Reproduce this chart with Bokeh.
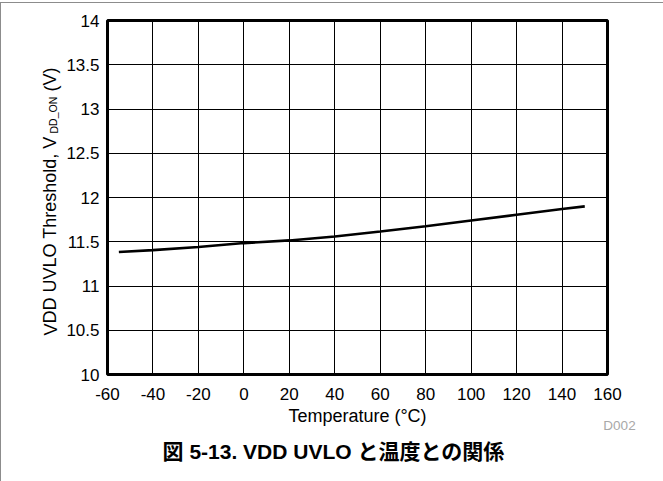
from bokeh.plotting import figure
from bokeh.models import Range1d, FixedTicker, Label
from bokeh.embed import file_html
from bokeh.resources import INLINE

# ---- data ----
temp_c = [-55, -40, -20, 0, 20, 40, 60, 80, 100, 120, 140, 150]
vdd_on = [11.385, 11.405, 11.44, 11.485, 11.515, 11.56, 11.615, 11.675, 11.74, 11.805, 11.87, 11.90]

x_ticks = [-60, -40, -20, 0, 20, 40, 60, 80, 100, 120, 140, 160]
x_tick_labels = ["-60", "-40", "-20", "0", "20", "40", "60", "80", "100", "120", "140", "160"]
y_ticks = [10, 10.5, 11, 11.5, 12, 12.5, 13, 13.5, 14]
y_tick_labels = ["10", "10.5", "11", "11.5", "12", "12.5", "13", "13.5", "14"]

x_label = "Temperature (°C)"
y_label_main = "VDD UVLO Threshold, V"
y_label_sub = "DD_ON"
y_label_end = "(V)"
title_text = "図 5-13. VDD UVLO と温度との関係"
code_text = "D002"

FONT = "Liberation Sans"
CJK = "Liberation Sans, Noto Sans CJK JP"

p = figure(width=662, height=478, output_backend="svg", toolbar_location=None,
           x_range=Range1d(-60, 160), y_range=Range1d(10, 14),
           min_border_left=106, min_border_right=56, min_border_top=17, min_border_bottom=107,
           styles={"margin-left": "1px", "margin-top": "3px", "outline": "1px solid #8c8c8c"})
p.background_fill_color = "white"
p.border_fill_color = "white"
p.outline_line_color = "black"
p.outline_line_width = 3

p.xaxis.ticker = FixedTicker(ticks=x_ticks)
p.yaxis.ticker = FixedTicker(ticks=y_ticks)
p.xaxis.major_label_overrides = {t: s for t, s in zip(x_ticks, x_tick_labels)}
p.yaxis.major_label_overrides = {t: s for t, s in zip(y_ticks, y_tick_labels)}
for ax in (p.xaxis, p.yaxis):
    ax.axis_line_color = None
    ax.major_tick_line_color = None
    ax.minor_tick_line_color = None
    ax.major_tick_in = 0
    ax.major_tick_out = 0
    ax.major_label_text_font = FONT
    ax.major_label_text_font_size = "17px"
    ax.major_label_text_color = "black"
p.xaxis.major_label_standoff = 13
p.yaxis.major_label_standoff = 8

p.xgrid.ticker = FixedTicker(ticks=x_ticks)
p.ygrid.ticker = FixedTicker(ticks=y_ticks)
for g in (p.xgrid, p.ygrid):
    g.grid_line_color = "black"
    g.grid_line_width = 1
    g.grid_line_alpha = 1

p.line(temp_c, vdd_on, line_color="black", line_width=2.6)

# texts outside the frame: annotations in side panels (not clipped)
p.add_layout(Label(x=50, y=10, y_offset=-41, text=x_label, text_align="center",
                   text_baseline="alphabetic", text_font=FONT, text_font_size="18px",
                   text_color="black"), "below")
p.add_layout(Label(x=-60, y=10, x_offset=512, y_offset=-51, text=code_text, text_align="center",
                   text_baseline="alphabetic", text_font=FONT, text_font_size="13.5px",
                   text_color="#a8a8a8"), "below")
p.add_layout(Label(x=-60, y=10, x_offset=226, y_offset=-77, text=title_text, text_align="center",
                   text_baseline="alphabetic", text_font=CJK, text_font_size="21px",
                   text_font_style="bold", text_color="black"), "below")

p.add_layout(Label(x=-60, y=10, x_offset=-57, y_offset=39, angle=1.5708, text=y_label_main,
                   text_align="left", text_baseline="alphabetic", text_font=FONT,
                   text_font_size="18px", text_color="black"), "left")
p.add_layout(Label(x=-60, y=10, x_offset=-54, y_offset=241, angle=1.5708, text=y_label_sub,
                   text_align="left", text_baseline="alphabetic", text_font=FONT,
                   text_font_size="10.5px", text_color="black"), "left")
p.add_layout(Label(x=-60, y=10, x_offset=-57, y_offset=283, angle=1.5708, text=y_label_end,
                   text_align="left", text_baseline="alphabetic", text_font=FONT,
                   text_font_size="18px", text_color="black"), "left")

open("out.html", "w").write(file_html(p, INLINE))
